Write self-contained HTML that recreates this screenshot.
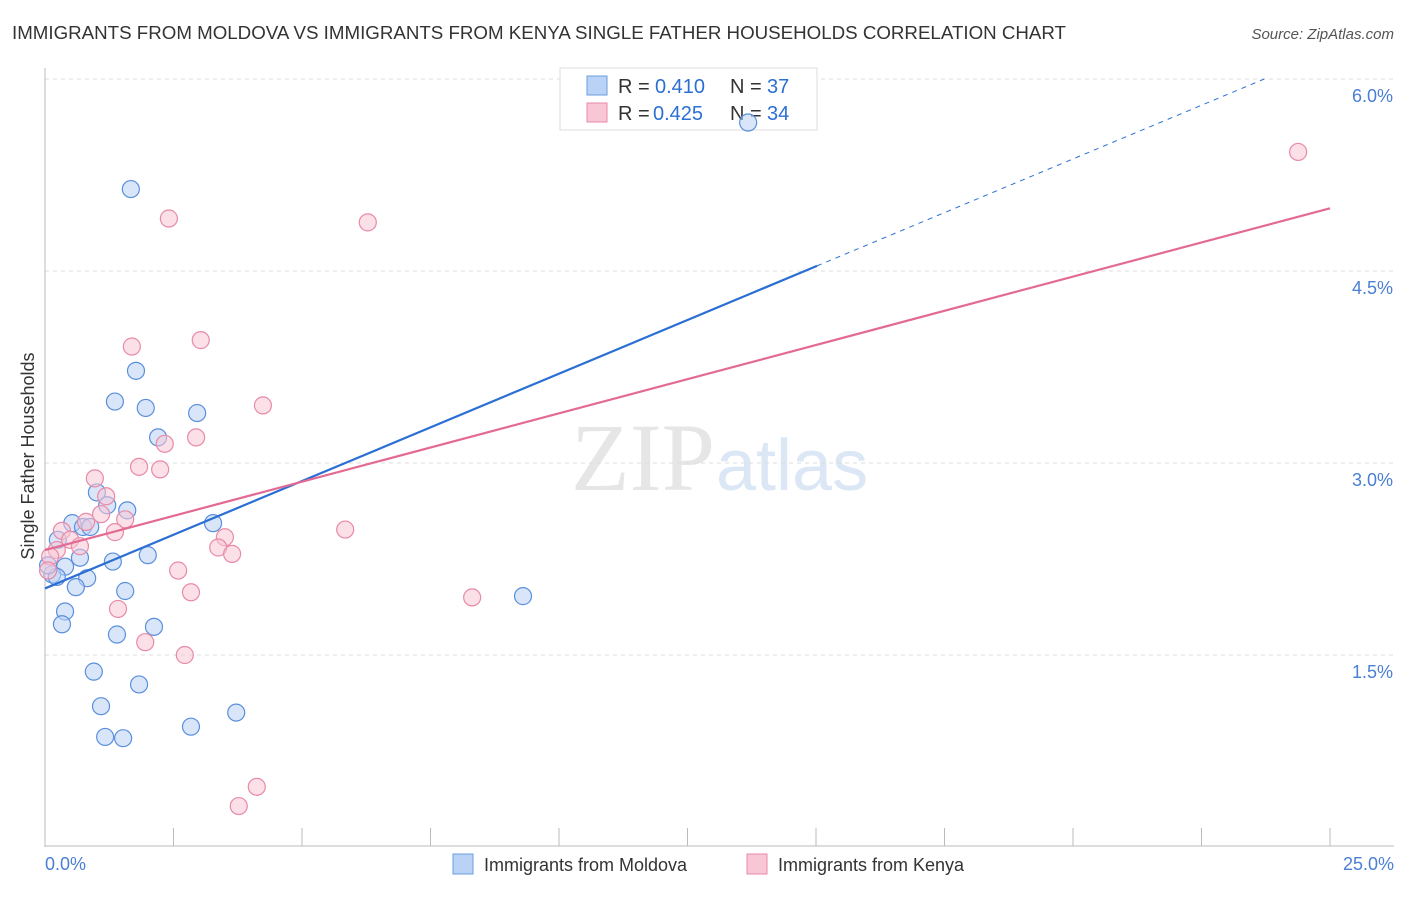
<!DOCTYPE html>
<html><head><meta charset="utf-8"><style>
body{margin:0;background:#fff;font-family:"Liberation Sans",sans-serif;}
</style></head><body>
<svg width="1406" height="892" xmlns="http://www.w3.org/2000/svg" font-family="Liberation Sans, sans-serif">
<text x="12" y="39" font-size="18" fill="#333" textLength="1054" lengthAdjust="spacingAndGlyphs">IMMIGRANTS FROM MOLDOVA VS IMMIGRANTS FROM KENYA SINGLE FATHER HOUSEHOLDS CORRELATION CHART</text>
<text x="1394" y="39" font-size="15" fill="#555" font-style="italic" text-anchor="end">Source: ZipAtlas.com</text>
<text x="715" y="490" font-size="96" fill="#e6e6e6" text-anchor="end" font-family="Liberation Serif, serif">ZIP</text>
<text x="716" y="490" font-size="72" fill="#dbe7f5">atlas</text>
<g id="grid"></g>
<g id="axes"></g>
<g>
<rect x="560" y="68" width="257" height="62" fill="#fff" stroke="#ddd"/>
<rect x="587" y="76" width="20" height="19" fill="#b9d2f5" stroke="#6a9de0"/>
<rect x="587" y="103" width="20" height="19" fill="#f8c6d5" stroke="#e88aa8"/>
<text x="618" y="93" font-size="20" fill="#333">R =</text>
<text x="655" y="93" font-size="20" fill="#2b6fd4">0.410</text>
<text x="730" y="93" font-size="20" fill="#333">N =</text>
<text x="767" y="93" font-size="20" fill="#2b6fd4">37</text>
<text x="618" y="120" font-size="20" fill="#333">R =</text>
<text x="653" y="120" font-size="20" fill="#2b6fd4">0.425</text>
<text x="730" y="120" font-size="20" fill="#333">N =</text>
<text x="767" y="120" font-size="20" fill="#2b6fd4">34</text>
</g>
<g id="marks"></g>
<text x="34" y="456" font-size="18" fill="#333" text-anchor="middle" transform="rotate(-90 34 456)">Single Father Households</text>
<text x="45" y="870" font-size="18" fill="#4a7fd4">0.0%</text>
<text x="1394" y="870" font-size="18" fill="#4a7fd4" text-anchor="end">25.0%</text>
<g>
<rect x="453" y="854" width="20" height="20" fill="#b9d2f5" stroke="#6a9de0"/>
<text x="484" y="871" font-size="18" fill="#333">Immigrants from Moldova</text>
<rect x="747" y="854" width="20" height="20" fill="#f8c6d5" stroke="#e88aa8"/>
<text x="778" y="871" font-size="18" fill="#333">Immigrants from Kenya</text>
</g>
</svg>
<script>
const yTicks=[1.5,3.0,4.5,6.0];
const yTickLabels=["1.5%","3.0%","4.5%","6.0%"];
const xTicks=[0,2.5,5,7.5,10,12.5,15,17.5,20,22.5,25];
const moldovaX=[1.67,13.68,1.77,1.36,1.96,2.96,2.20,1.01,1.21,1.60,0.53,0.74,0.88,3.27,0.25,2.00,0.68,1.32,0.39,0.14,0.23,0.82,0.60,1.56,9.30,0.39,0.33,2.12,1.40,0.95,1.83,1.09,3.72,2.84,1.17,1.52,0.06];
const moldovaY=[5.14,5.66,3.72,3.48,3.43,3.39,3.20,2.77,2.67,2.63,2.53,2.50,2.50,2.53,2.40,2.28,2.26,2.23,2.19,2.13,2.11,2.10,2.03,2.00,1.96,1.84,1.74,1.72,1.66,1.37,1.27,1.10,1.05,0.94,0.86,0.85,2.20];
const kenyaX=[24.38,2.41,6.28,3.03,1.69,4.24,2.33,2.94,1.83,2.24,0.97,1.19,1.09,1.56,0.33,0.80,1.36,0.49,0.68,5.84,3.50,3.37,3.64,0.23,0.10,2.59,2.84,8.31,1.42,1.95,2.72,4.12,3.77,0.06];
const kenyaY=[5.43,4.91,4.88,3.96,3.91,3.45,3.15,3.20,2.97,2.95,2.88,2.74,2.60,2.56,2.47,2.54,2.46,2.40,2.35,2.48,2.42,2.34,2.29,2.32,2.27,2.16,1.99,1.95,1.86,1.60,1.50,0.47,0.32,2.16];
const moldovaTrend=[2.02,4.54,15.02];
const kenyaTrend=[2.32,4.99];
const X=v=>45+v*1285/25, Y=v=>847-v*192/1.5;
const NS="http://www.w3.org/2000/svg";
function mk(parent,tag,attrs){const e=document.createElementNS(NS,tag);for(const k in attrs)e.setAttribute(k,attrs[k]);document.getElementById(parent).appendChild(e);return e;}
yTicks.forEach((t,i)=>{
 const l=mk('grid','line',{x1:45,x2:1394,y1:Y(t),y2:Y(t),stroke:'#ddd','stroke-dasharray':'4,4'});
 
 
 const tx=mk('grid','text',{x:1393,y:Y(t)+23,'font-size':18,fill:'#4a7fd4','text-anchor':'end'});
 tx.textContent=yTickLabels[i];
 
 
});
const ax=mk('axes','line',{x1:45,x2:45,y1:68,y2:847,stroke:'#bbb'});


const bx=mk('axes','line',{x1:45,x2:1394,y1:846,y2:846,stroke:'#bbb'});


xTicks.forEach(t=>{
 const l=mk('axes','line',{x1:X(t),x2:X(t),y1:828,y2:846,stroke:'#bbb'});
 
 
});
function pts(xs,ys,fill,stroke,name){xs.forEach((x,i)=>{
 const c=mk('marks','circle',{cx:X(x),cy:Y(ys[i]),r:8.5,fill:fill,'fill-opacity':0.55,stroke:stroke,'stroke-width':1.2});
 
 
});}
pts(moldovaX,moldovaY,'#b9d2f5','#5b8fdc','moldova-point');
pts(kenyaX,kenyaY,'#f8c6d5','#e88aa8','kenya-point');
const slope=(moldovaTrend[1]-moldovaTrend[0])/moldovaTrend[2];
const bl=mk('marks','line',{x1:X(0),y1:Y(moldovaTrend[0]),x2:X(moldovaTrend[2]),y2:Y(moldovaTrend[1]),stroke:'#2b6fd4','stroke-width':2.2});


const xe=(6.0-moldovaTrend[0])/slope;
const bd=mk('marks','line',{x1:X(moldovaTrend[2]),y1:Y(moldovaTrend[1]),x2:X(xe),y2:Y(6.0),stroke:'#2b6fd4','stroke-width':1,'stroke-dasharray':'5,5'});


const kl=mk('marks','line',{x1:X(0),y1:Y(kenyaTrend[0]),x2:X(25),y2:Y(kenyaTrend[1]),stroke:'#e36a92','stroke-width':2.2});


</script>
</body></html>
